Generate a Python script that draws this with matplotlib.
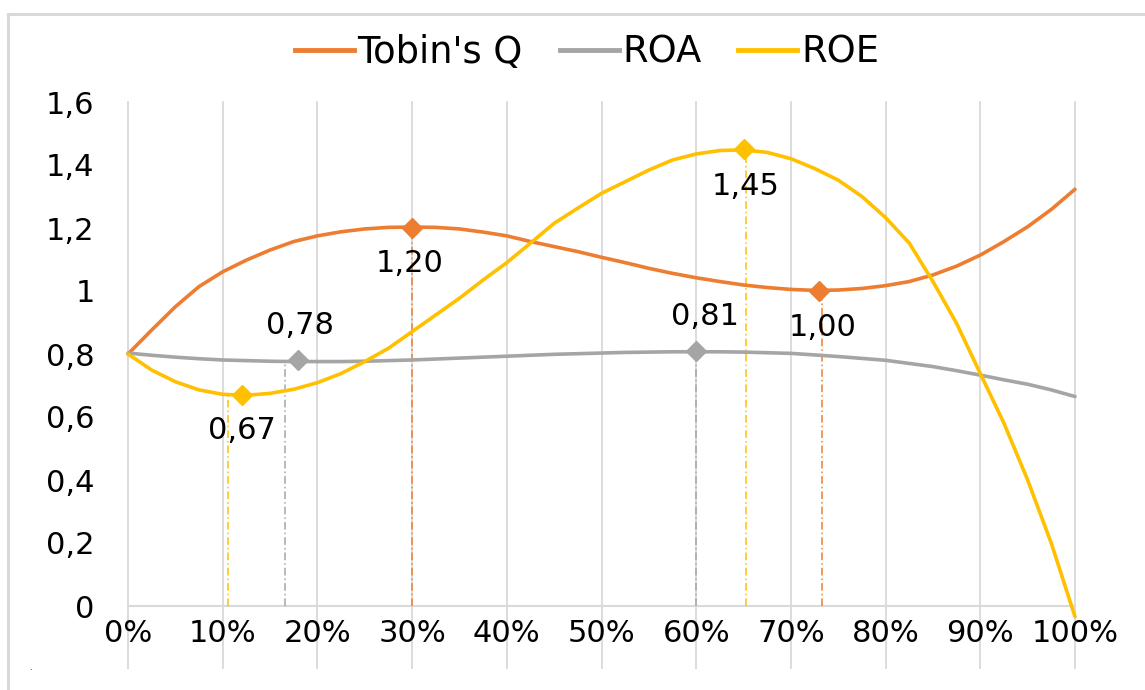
import matplotlib
matplotlib.use("Agg")
import matplotlib.pyplot as plt
from matplotlib.lines import Line2D
from matplotlib.ticker import FuncFormatter

# ---------------- data ----------------
x_pct = [0, 2.5, 5, 7.5, 10, 12.5, 15, 17.5, 20, 22.5, 25, 27.5, 30, 32.5, 35, 37.5, 40,
         42.5, 45, 47.5, 50, 52.5, 55, 57.5, 60, 62.5, 65, 67.5, 70, 72.5, 75, 77.5, 80,
         82.5, 85, 87.5, 90, 92.5, 95, 97.5, 100]
tobins_q = [0.80, 0.876, 0.95, 1.014, 1.061, 1.098, 1.13, 1.157, 1.175, 1.188, 1.197,
            1.202, 1.203, 1.202, 1.197, 1.187, 1.175, 1.157, 1.141, 1.125, 1.107, 1.09,
            1.072, 1.056, 1.042, 1.03, 1.019, 1.011, 1.005, 1.002, 1.003, 1.008, 1.017,
            1.03, 1.051, 1.079, 1.114, 1.157, 1.204, 1.259, 1.323]
roa = [0.803, 0.796, 0.79, 0.785, 0.781, 0.779, 0.777, 0.776, 0.776, 0.776, 0.777,
       0.779, 0.781, 0.784, 0.787, 0.79, 0.793, 0.796, 0.799, 0.801, 0.803, 0.805,
       0.806, 0.807, 0.807, 0.807, 0.806, 0.804, 0.802, 0.797, 0.792, 0.786, 0.78,
       0.77, 0.76, 0.747, 0.733, 0.718, 0.704, 0.686, 0.665]
roe = [0.80, 0.749, 0.712, 0.686, 0.672, 0.669, 0.675, 0.688, 0.709, 0.738, 0.776,
       0.818, 0.871, 0.924, 0.977, 1.035, 1.09, 1.152, 1.215, 1.263, 1.31, 1.347,
       1.384, 1.416, 1.435, 1.446, 1.448, 1.44, 1.42, 1.389, 1.352, 1.30, 1.233,
       1.152, 1.03, 0.897, 0.738, 0.58, 0.40, 0.199, -0.034]

series_names = ["Tobin's Q", "ROA", "ROE"]
series_values = [tobins_q, roa, roe]

# extreme points (x in %, value) and their labels
q_ext_x = [30, 73]
q_ext_y = [1.20, 1.00]
roa_ext_x = [18, 60]
roa_ext_y = [0.78, 0.81]
roe_ext_x = [12, 65]
roe_ext_y = [0.67, 1.45]
ext_x = [q_ext_x, roa_ext_x, roe_ext_x]
ext_y = [q_ext_y, roa_ext_y, roe_ext_y]

# drop-line x positions (as drawn in the reference)
q_drop_x = [30, 73.3]
roa_drop_x = [16.6, 60]
roe_drop_x = [10.6, 65.3]
drop_x = [q_drop_x, roa_drop_x, roe_drop_x]

y_ticks = [0, 0.2, 0.4, 0.6, 0.8, 1.0, 1.2, 1.4, 1.6]
x_ticks = [0, 10, 20, 30, 40, 50, 60, 70, 80, 90, 100]

# ---------------- style ----------------
colors = ["#ED7D31", "#A5A5A5", "#FFC000"]
grid_color = "#D9D9D9"
# label offsets in pixels (dx, dy) for each extreme point
label_offsets = [[(-2, -36), (3, -36)], [(2, 35), (9, 34)], [(0, -36), (2, -37)]]

plt.rcParams["font.family"] = ["DejaVu Sans"]

W, H = 1145, 690
fig = plt.figure(figsize=(W / 100, H / 100), dpi=100)
ax = fig.add_axes([128 / W, 1 - 606 / H, (1075 - 128) / W, (606 - 102) / H])
ax.set_xlim(0, 100)
ax.set_ylim(0, 1.6)
for s in ax.spines.values():
    s.set_visible(False)

# vertical gridlines extending below the axis
for xv in x_ticks:
    ax.plot([xv, xv], [-0.197, 1.6], color=grid_color, lw=1.3, clip_on=False, zorder=0)
ax.plot([0, 100], [0, 0], color=grid_color, lw=1.5, clip_on=False, zorder=0.5)

ax.set_xticks(x_ticks)
ax.set_yticks(y_ticks)
ax.xaxis.set_major_formatter(FuncFormatter(lambda v, p: f"{int(round(v))}%"))
ax.yaxis.set_major_formatter(FuncFormatter(
    lambda v, p: ("0" if abs(v) < 1e-9 else (f"{v:.1f}".rstrip("0").rstrip(".")).replace(".", ","))))
ax.tick_params(axis="both", length=0, labelsize=22, colors="#000000")
ax.tick_params(axis="x", pad=9)
ax.tick_params(axis="y", pad=24)

# drop lines
for dx, ey, c in zip(drop_x, ext_y, colors):
    for xx, yy in zip(dx, ey):
        ax.plot([xx, xx], [0, yy], color=c, lw=1.1, ls=(0, (5, 2, 1, 2)), zorder=1, clip_on=False)

# series lines
for name, vals, c in zip(series_names, series_values, colors):
    ax.plot(x_pct, vals, color=c, lw=2.6, solid_capstyle="round", solid_joinstyle="round",
            zorder=3, clip_on=False, label=name)

# extreme markers and labels
for exs, eys, c, offs in zip(ext_x, ext_y, colors, label_offsets):
    ax.plot(exs, eys, ls="none", marker="D", ms=10, color=c, zorder=4, clip_on=False)
    for xx, yy, (ox, oy) in zip(exs, eys, offs):
        ax.annotate(f"{yy:.2f}".replace(".", ","), (xx, yy), xytext=(ox, oy),
                    textcoords="offset pixels", ha="center", va="center",
                    fontsize=22, color="#000000", zorder=5)

# legend
leg_handles = [Line2D([], [], color=c, lw=3.5) for c in colors]
fig.legend(leg_handles, series_names, loc="center", bbox_to_anchor=(587 / W, 1 - 52 / H),
           ncol=3, frameon=False, fontsize=26.5, handlelength=1.6, handletextpad=0.1,
           columnspacing=1.0)

# outer frame
fig.add_artist(Line2D([8 / W, 8 / W], [0, 1 - 14 / H], color=grid_color, lw=2.2,
                      transform=fig.transFigure))
fig.add_artist(Line2D([8 / W, 1], [1 - 14 / H, 1 - 14 / H], color=grid_color, lw=2.2,
                      transform=fig.transFigure))
fig.text(30 / W, 1 - 668 / H, ".", fontsize=6, ha="center", va="center")

fig.savefig("out.png", dpi=100, facecolor="white")
